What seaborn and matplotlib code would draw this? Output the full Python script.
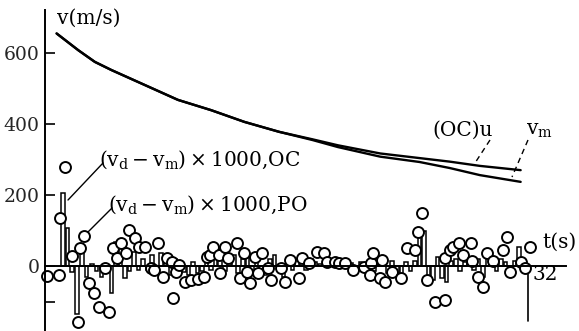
import numpy as np
import pandas as pd
import matplotlib
matplotlib.use("Agg")
import matplotlib.pyplot as plt
import seaborn as sns

# ---- data ----
curve_t = [0.77, 2.2, 3.3, 4.4, 6.6, 8.8, 11.0, 13.2, 15.5, 17.7, 19.4, 22.2, 24.8, 26.8, 28.8, 31.5]
u_oc    = [655, 608, 575, 552, 510, 468, 439, 406, 378, 357, 340, 317, 304, 294, 282, 270]
v_m     = [655, 608, 575, 552, 510, 468, 439, 406, 378, 355, 335, 308, 293, 276, 256, 237]

bar_t = [1.2, 1.5, 1.8, 2.1, 2.45, 2.75, 3.1, 3.4, 3.75, 4.05, 4.4, 4.7, 5.0, 5.3, 5.6,
         5.9, 6.2, 6.5, 6.8, 7.1, 7.4, 7.7, 8.0, 8.3, 8.6, 8.9, 9.2, 9.5, 9.8, 10.1,
         10.4, 10.7, 11.0, 11.3, 11.6, 11.9, 12.2, 12.5, 12.8, 13.1, 13.4, 13.7, 14.0,
         14.3, 14.6, 14.9, 15.2, 15.5, 15.8, 16.1, 16.4, 16.7, 17.0, 17.3, 17.6, 17.9,
         18.2, 18.5, 18.8, 19.1, 19.4, 19.7, 20.0, 20.3, 20.6, 20.9, 21.2, 21.5, 21.8,
         22.1, 22.4, 22.7, 23.0, 23.3, 23.6, 23.9, 24.2, 24.5, 24.8, 25.1, 25.4, 25.7,
         26.0, 26.3, 26.6, 26.9, 27.2, 27.5, 27.8, 28.1, 28.4, 28.7, 29.0, 29.3, 29.6,
         29.9, 30.2, 30.5, 30.8, 31.1, 31.4, 31.7]
bar_oc = [205, 107, -18, -135, 60, -30, 5, -15, -30, -20, -76, 68, 65, -35, -15,
          40, -10, 20, -12, 30, -20, 37, 15, -25, 20, 10, -18, -25, 10, -20,
          -15, 15, -10, 20, 25, -15, 15, 30, -20, 20, 30, -25, 15,
          -15, -25, 20, 30, -15, -30, 10, -10, 20, 15, -10, 20, 10,
          5, 10, 5, 8, 10, 5, -5, 8, -10, 10, 5, 15, -15,
          10, 20, -20, 15, -20, -30, 10, -15, 15, 95, 100, -30, -40,
          25, -35, -45, 15, 20, -15, 10, 15, -10, 20, -30, 25, 10,
          -15, 20, 10, -10, 15, 54, -10]

po_t = [0.1, 0.9, 1.0, 1.32, 1.77, 2.2, 2.32, 2.6, 2.93, 3.27, 3.6, 3.97, 4.26, 4.48,
        4.8, 5.03, 5.36, 5.58, 5.96, 6.25, 6.6, 7.0, 7.2, 7.5, 7.8, 8.1, 8.4, 8.5,
        8.7, 8.9, 9.3, 9.7, 10.1, 10.5, 10.7, 10.9, 11.1, 11.5, 11.6, 11.9, 12.1,
        12.7, 12.9, 13.2, 13.4, 13.6, 13.9, 14.1, 14.4, 14.8, 15.0, 15.6, 15.9, 16.2,
        16.8, 17.0, 17.5, 18.0, 18.5, 18.7, 19.2, 19.5, 19.9, 20.4, 21.1, 21.5, 21.6,
        21.7, 22.2, 22.3, 22.5, 23.0, 23.6, 24.0, 24.5, 24.7, 25.0, 25.3, 25.8, 26.5,
        26.5, 26.8, 27.0, 27.4, 27.7, 28.2, 28.3, 28.7, 29.0, 29.3, 29.7, 30.3, 30.6,
        30.8, 31.5, 31.8, 32.1]
po_v = [-28, -25, 135, 279, 28, -158, 51, 85, -48, -76, -115, -6, -130, 51,
        23, 65, 37, 101, 79, 54, 54, -6, -11, 65, -31, 22, 12, -90,
        -17, 3, -45, -39, -37, -31, 25, 31, 54, 31, -20, 54, 22,
        65, -34, 37, -17, -48, 25, -20, 37, -6, -39, -6, -45, 17,
        -34, 22, 8, 39, 37, 11, 11, 8, 8, -11, -3, -25, 8,
        37, -34, 17, -45, -17, -34, 51, 45, 96, 149, -39, -101, -96,
        22, 45, 54, 65, 31, 65, 14, -31, -59, 37, 14, 45, 82,
        -17, 11, -6, 54]

yticks = [0, 200, 400, 600]
ytick_labels = ["0", "200", "400", "600"]

# ---- figure ----
sns.set_theme(style="white")
plt.rcParams["font.family"] = ["DejaVu Serif"]
plt.rcParams["mathtext.fontset"] = "dejavuserif"

W, H = 579, 331
fig = plt.figure(figsize=(W / 100, H / 100), dpi=100)
ax = fig.add_axes([0, 0, 1, 1])
ax.set_facecolor("white")

px_per_s = 15.1
px_per_u = 0.355
x0, y0 = 45, 266
ax.set_xlim(-x0 / px_per_s, (W - x0) / px_per_s)
ax.set_ylim(-(H - y0) / px_per_u, y0 / px_per_u)

# bars (OC)
ax.bar(bar_t, bar_oc, width=0.24, color="white", edgecolor="black",
       linewidth=1.1, zorder=2)

# curves
curves = pd.DataFrame({"t": curve_t * 2, "v": u_oc + v_m,
                       "s": ["u"] * len(curve_t) + ["vm"] * len(curve_t)})
sns.lineplot(data=curves, x="t", y="v", units="s", estimator=None,
             color="black", linewidth=1.7, ax=ax, zorder=3)

# circles (PO)
po = pd.DataFrame({"t": po_t, "v": po_v})
sns.scatterplot(data=po, x="t", y="v", s=62, facecolor="white",
                edgecolor="black", linewidth=1.4, ax=ax, zorder=4)

# vertical line at t=32
ax.plot([32, 32], [0, -155], color="black", linewidth=1.2, zorder=2)

# axes styling
for s in ["top", "right"]:
    ax.spines[s].set_visible(False)
ax.spines["left"].set_position(("data", 0))
ax.spines["bottom"].set_position(("data", 0))
ax.spines["left"].set_bounds(-183, 720)
ax.spines["bottom"].set_bounds(0, 34.5)
for s in ["left", "bottom"]:
    ax.spines[s].set_color("black")
    ax.spines[s].set_linewidth(1.4)
    ax.spines[s].set_zorder(5)
ax.set_xticks([])
ax.set_yticks(yticks)
ax.set_yticklabels(ytick_labels, fontsize=13.5)
ax.set_yticks([-100], minor=True)
ax.tick_params(axis="y", which="both", direction="in", length=7, width=1.2,
               color="black", pad=4, left=True)
ax.set_xlabel("")
ax.set_ylabel("")

def fx(x):
    return x / W

def fy(y):
    return 1 - y / H

tkw = dict(transform=fig.transFigure, color="black", fontsize=14.5, va="center", ha="left")
fig.text(fx(57), fy(18), "v(m/s)", **tkw)
fig.text(fx(432), fy(130), "(OC)u", **tkw)
fig.text(fx(526), fy(131), r"$\mathrm{v}_\mathrm{m}$", **tkw)
fig.text(fx(99), fy(160), r"$(\mathrm{v}_\mathrm{d}-\mathrm{v}_\mathrm{m})\times1000$,OC", **tkw)
fig.text(fx(108), fy(205), r"$(\mathrm{v}_\mathrm{d}-\mathrm{v}_\mathrm{m})\times1000$,PO", **tkw)
fig.text(fx(542), fy(242), "t(s)", **tkw)
fig.text(fx(532), fy(274), "32", **tkw)

def leader(p1, p2, ls="-"):
    fig.add_artist(plt.Line2D([fx(p1[0]), fx(p2[0])], [fy(p1[1]), fy(p2[1])],
                              transform=fig.transFigure, color="black",
                              linewidth=1.0, linestyle=ls))

leader((103, 163), (68, 200))
leader((112, 208), (88, 232))
leader((490, 140), (475, 163), ls=(0, (4, 3)))
leader((528, 140), (512, 177), ls=(0, (4, 3)))

fig.savefig("out.png", dpi=100)
